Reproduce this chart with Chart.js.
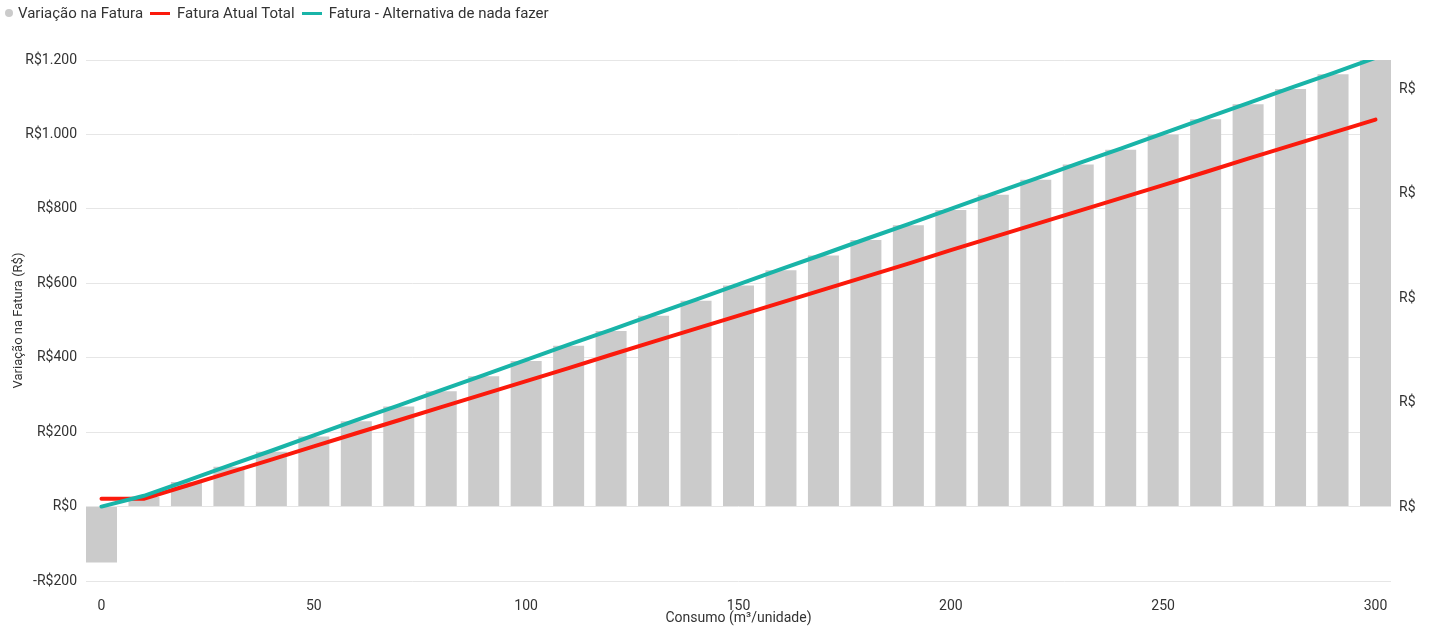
<!DOCTYPE html>
<html lang="pt-BR">
<head>
<meta charset="utf-8">
<title>Variação na Fatura</title>
<script src="https://cdn.jsdelivr.net/npm/chart.js@4.4.1/dist/chart.umd.min.js"></script>
<style>
  html, body { margin: 0; padding: 0; background: #fff; }
  #wrap { position: relative; width: 1432px; height: 627px; }
  #legend {
    position: absolute; top: 4px; left: 5px;
    font: 15px Roboto, "Open Sans", sans-serif; color: #333;
    display: flex; align-items: center; white-space: nowrap;
  }
  #legend .item { display: flex; align-items: center; margin-right: 7px; }
  #legend .dot { width: 8px; height: 8px; border-radius: 50%; margin-right: 5px; }
  #legend .line { width: 20px; height: 3px; margin-right: 7px; }
  canvas { position: absolute; left: 0; top: 0; }
</style>
</head>
<body>
<div id="wrap">
  <canvas id="chart" width="1432" height="627"></canvas>
  <div id="legend"></div>
</div>
<script>
// Consumo (m³/unidade)
const consumo = [0, 10, 20, 30, 40, 50, 60, 70, 80, 90, 100, 110, 120, 130, 140, 150,
                 160, 170, 180, 190, 200, 210, 220, 230, 240, 250, 260, 270, 280, 290, 300];

// Variação na Fatura (R$) — barras
const variacao = [-150, 26, 66, 107, 147, 188, 229, 269, 310, 350, 391, 432, 472, 513, 553, 594,
                  635, 675, 716, 756, 797, 838, 878, 919, 959, 1000, 1041, 1081, 1122, 1162, 1201];

// Fatura Atual Total (R$)
const faturaAtual = [21, 21, 56, 91, 126, 162, 197, 232, 267, 302, 337, 372, 408, 443, 478, 513,
                     548, 583, 618, 653, 689, 724, 759, 794, 829, 864, 899, 935, 970, 1005, 1040];

// Fatura - Alternativa de nada fazer (R$)
const faturaAlternativa = [0, 29, 69, 110, 150, 191, 232, 272, 313, 353, 394, 435, 475, 516, 556, 597,
                           638, 678, 719, 759, 800, 841, 881, 922, 962, 1003, 1044, 1084, 1125, 1165, 1206];

// Axis ticks
const xTicks = [0, 50, 100, 150, 200, 250, 300];
const yTicks = [-200, 0, 200, 400, 600, 800, 1000, 1200];
const y2Ticks = [0, 1, 2, 3, 4];

const seriesNames = ['Variação na Fatura', 'Fatura Atual Total', 'Fatura - Alternativa de nada fazer'];
const colors = { bar: '#cbcbcb', red: '#fb1a0c', teal: '#19b4a8' };

const fontFamily = 'Roboto, "Open Sans", sans-serif';
const textColor = '#333333';

function brl(v) {
  const abs = Math.abs(v).toLocaleString('pt-BR');
  return (v < 0 ? '-R$' : 'R$') + abs;
}

const pts = arr => arr.map((y, i) => ({ x: consumo[i], y }));

// HTML legend
const legendEl = document.getElementById('legend');
legendEl.innerHTML =
  `<div class="item"><span class="dot" style="background:${colors.bar}"></span>${seriesNames[0]}</div>` +
  `<div class="item"><span class="line" style="background:${colors.red}"></span>${seriesNames[1]}</div>` +
  `<div class="item"><span class="line" style="background:${colors.teal}"></span>${seriesNames[2]}</div>`;

new Chart(document.getElementById('chart'), {
  type: 'bar',
  data: {
    datasets: [
      {
        type: 'line', label: seriesNames[2], data: pts(faturaAlternativa),
        borderColor: colors.teal, borderWidth: 4, pointRadius: 0, tension: 0,
        borderCapStyle: 'round', order: 0, yAxisID: 'y'
      },
      {
        type: 'line', label: seriesNames[1], data: pts(faturaAtual),
        borderColor: colors.red, borderWidth: 4, pointRadius: 0, tension: 0,
        borderCapStyle: 'round', order: 1, yAxisID: 'y'
      },
      {
        type: 'bar', label: seriesNames[0], data: pts(variacao),
        backgroundColor: colors.bar, borderWidth: 0,
        categoryPercentage: 1, barPercentage: 0.73, order: 2, yAxisID: 'y'
      }
    ]
  },
  options: {
    responsive: false,
    animation: false,
    layout: { padding: { top: 60, left: 0, right: 0, bottom: 0 } },
    plugins: { legend: { display: false }, tooltip: { enabled: false } },
    scales: {
      x: {
        type: 'linear',
        offset: false,
        min: -3.65, max: 303.65,
        afterBuildTicks: s => { s.ticks = xTicks.map(v => ({ value: v })); },
        afterFit: s => { s.height = 46; },
        grid: { display: false, drawTicks: false, offset: false },
        border: { display: false },
        ticks: { font: { family: fontFamily, size: 14 }, color: textColor, padding: 17, maxRotation: 0 },
        title: {
          display: true, text: 'Consumo (m³/unidade)',
          font: { family: fontFamily, size: 14 }, color: textColor,
          padding: { top: 0, bottom: 0 }
        }
      },
      y: {
        position: 'left',
        min: -200, max: 1200,
        afterBuildTicks: s => { s.ticks = yTicks.map(v => ({ value: v })); },
        afterFit: s => { s.width = 86; },
        grid: { color: '#e6e6e6', lineWidth: 1, drawTicks: false },
        border: { display: false },
        ticks: { font: { family: fontFamily, size: 14 }, color: textColor, padding: 9, callback: v => brl(v) },
        title: {
          display: true, text: 'Variação na Fatura (R$)',
          font: { family: fontFamily, size: 13 }, color: textColor,
          padding: { top: 11, bottom: 0 }
        }
      },
      y2: {
        position: 'right',
        min: -0.708, max: 4.278,
        afterBuildTicks: s => { s.ticks = y2Ticks.map(v => ({ value: v })); },
        afterFit: s => { s.width = 41; },
        grid: { display: false, drawTicks: false },
        border: { display: false },
        ticks: { font: { family: fontFamily, size: 14 }, color: textColor, padding: 8, callback: () => 'R$' }
      }
    }
  }
});
</script>
</body>
</html>
